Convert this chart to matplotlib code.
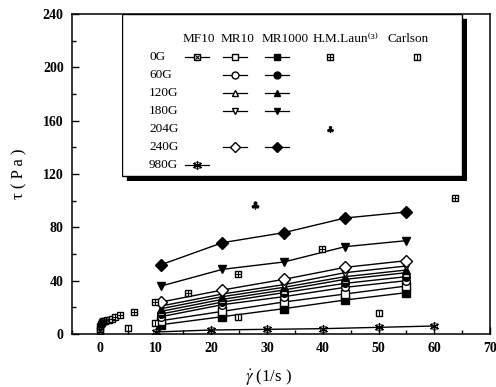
import matplotlib
matplotlib.use("Agg")
import matplotlib.pyplot as plt
from matplotlib.patches import Rectangle
from matplotlib.ticker import MultipleLocator
from matplotlib.textpath import TextPath
from matplotlib.font_manager import FontProperties
from matplotlib.path import Path

plt.rcParams["font.family"] = ["Liberation Serif", "DejaVu Serif"]
plt.rcParams["mathtext.fontset"] = "stix"

# Données
shear_mr = [11, 22, 33, 44, 55]
mr10_0g = [10, 17, 24, 30, 36]
mr10_60g = [13, 22, 28, 35, 40]
mr10_120g = [17, 26, 33, 41, 46]
mr10_180g = [21, 30, 37, 46, 51]
mr10_240g = [24, 33, 41, 50, 55]
mr1000_0g = [7, 13, 19, 25.5, 31]
mr1000_60g = [15, 24, 31, 38, 43]
mr1000_120g = [19, 28, 35, 43, 48]
mr1000_180g = [36, 48.5, 54, 65.5, 70]
mr1000_240g = [52, 68.5, 76, 87, 91.5]

mf10_0g_x = [0.0, 0.05, 0.1, 0.2, 0.3, 0.4, 0.6, 0.8, 1.0, 1.3, 1.6]
mf10_0g_y = [2, 4, 6, 7.5, 8.5, 9, 9.5, 9.8, 10, 10.3, 10.6]
mf10_980g_x = [10, 20, 30, 40, 50, 60]
mf10_980g_y = [1.5, 3, 3.5, 4, 5, 6]

laun_0g_x = [2.2, 2.8, 3.6, 6.1, 9.9, 15.9, 24.8, 39.8, 63.8]
laun_0g_y = [10.9, 12.6, 14.4, 16.8, 23.8, 30.5, 45, 64, 102]
laun_204g_x = [27.8]
laun_204g_y = [96.5]
carlson_x = [5.1, 9.9, 24.8, 50]
carlson_y = [4.2, 8.6, 13, 15.5]

row_labels = ["0G", "60G", "120G", "180G", "204G", "240G", "980G"]
col_labels = ["MF10", "MR10", "MR1000", "H.M.Laun\u207d\u00b3\u207e", "Carlson"]

W, H = 496, 387
fig = plt.figure(figsize=(W / 100, H / 100), dpi=100)
ax = fig.add_axes([72 / W, 1 - 334 / H, 418 / W, 320 / H])

# symbole trèfle centré sur l'origine
_tp = TextPath((0, 0), "\u2663", prop=FontProperties(family="DejaVu Sans"))
_ext = _tp.get_extents()
club = Path(_tp.vertices - [(_ext.x0 + _ext.x1) / 2, (_ext.y0 + _ext.y1) / 2], _tp.codes)


def mark(a, x, y, kind, ms=5, line=False, **kw):
    ls = "-" if line else "none"
    base = dict(color="black", lw=1, ls=ls, **kw)
    if kind == "boxx":
        a.plot(x, y, marker="s", ms=ms, mfc="white", mec="black", **base)
        a.plot(x, y, marker="x", ms=ms * 0.6, mew=0.8, color="black", ls="none", **kw)
    elif kind == "boxplus":
        a.plot(x, y, marker="s", ms=ms, mfc="white", mec="black", **base)
        a.plot(x, y, marker="+", ms=ms * 0.9, mew=0.8, color="black", ls="none", **kw)
    elif kind == "boxbar":
        a.plot(x, y, marker="s", ms=ms, mfc="white", mec="black", **base)
        a.plot(x, y, marker="|", ms=ms * 0.9, mew=0.8, color="black", ls="none", **kw)
    elif kind == "star":
        a.plot(x, y, marker=(6, 2, 0), ms=ms * 1.3, mew=0.9, **base)
        a.plot(x, y, marker="s", ms=ms * 0.8, mfc="none", mec="black", mew=0.4, ls="none", **kw)
    elif kind == "club":
        a.plot(x, y, marker=club, ms=ms, mec="black", mfc="black", mew=0.3, **base)
    else:
        shape, filled = kind
        a.plot(x, y, marker=shape, ms=ms, mfc="black" if filled else "white",
               mec="black", mew=1, **base)


# séries MR (lignes + symboles)
series_mr = [
    (mr1000_0g, ("s", True)), (mr10_0g, ("s", False)),
    (mr10_60g, ("o", False)), (mr1000_60g, ("o", True)),
    (mr10_120g, ("^", False)), (mr1000_120g, ("^", True)),
    (mr10_180g, ("v", False)), (mr1000_180g, ("v", True)),
    (mr10_240g, ("D", False)), (mr1000_240g, ("D", True)),
]
for vals, kind in series_mr:
    ms = 6 if kind[0] in ("D", "v", "^") else 5.5
    mark(ax, shear_mr, vals, kind, ms=ms, line=True)

mark(ax, mf10_0g_x, mf10_0g_y, "boxx", ms=4, line=True)
mark(ax, mf10_980g_x, mf10_980g_y, "star", ms=5, line=True)
mark(ax, laun_0g_x, laun_0g_y, "boxplus", ms=5)
mark(ax, laun_204g_x, laun_204g_y, "club", ms=7)
mark(ax, carlson_x, carlson_y, "boxbar", ms=5)

ax.set_xlim(-5, 70)
ax.set_ylim(0, 240)
ax.xaxis.set_major_locator(MultipleLocator(10))
ax.xaxis.set_minor_locator(MultipleLocator(5))
ax.yaxis.set_major_locator(MultipleLocator(40))
ax.yaxis.set_minor_locator(MultipleLocator(20))
ax.tick_params(which="both", direction="in", top=False, right=False,
               labelsize=10, width=1)
ax.tick_params(which="major", length=5, pad=6)
ax.tick_params(which="minor", length=3)
for lbl in ax.get_xticklabels() + ax.get_yticklabels():
    lbl.set_fontweight("bold")
for sp in ax.spines.values():
    sp.set_linewidth(1.1)

ax.set_ylabel("\u03c4 ( P a )", fontsize=12, va="center")
ax.yaxis.set_label_coords(-0.125, 0.5)
ax.set_xlabel(r"$\dot{\gamma}$ (1/s )", fontsize=12, va="center")
ax.xaxis.set_label_coords(0.47, -0.135)

# légende dessinée à la main (cadre avec ombre)
lax = fig.add_axes([122 / W, 1 - 181 / H, 345 / W, 167 / H], zorder=5)
lax.set_xlim(0, 345)
lax.set_ylim(167, 0)
lax.axis("off")
lax.add_patch(Rectangle((5, 5), 340, 162, facecolor="black", edgecolor="black"))
lax.add_patch(Rectangle((0, 0), 340, 162, facecolor="white", edgecolor="black", lw=1))

col_x = [61, 99, 140, 191, 265]
for cx, txt in zip(col_x, col_labels):
    lax.text(cx, 25, txt, ha="left", va="center", fontsize=9.5)
row_y = [43 + 18 * i for i in range(len(row_labels))]
for ry, txt in zip(row_y, row_labels):
    lax.text(27, ry, txt, ha="left", va="center", fontsize=9.5)

seg = 12
entries = [
    (75, 0, "boxx", True), (113, 0, ("s", False), True), (155, 0, ("s", True), True),
    (208, 0, "boxplus", False), (295, 0, "boxbar", False),
    (113, 1, ("o", False), True), (155, 1, ("o", True), True),
    (113, 2, ("^", False), True), (155, 2, ("^", True), True),
    (113, 3, ("v", False), True), (155, 3, ("v", True), True),
    (208, 4, "club", False),
    (113, 5, ("D", False), True), (155, 5, ("D", True), True),
    (75, 6, "star", True),
]
for ex, ri, kind, with_line in entries:
    ry = row_y[ri]
    if with_line:
        lax.plot([ex - seg, ex + seg], [ry, ry], color="black", lw=0.9)
    mark(lax, [ex], [ry], kind, ms=6 if kind == "club" else 5)

fig.savefig("out.png", dpi=100)
